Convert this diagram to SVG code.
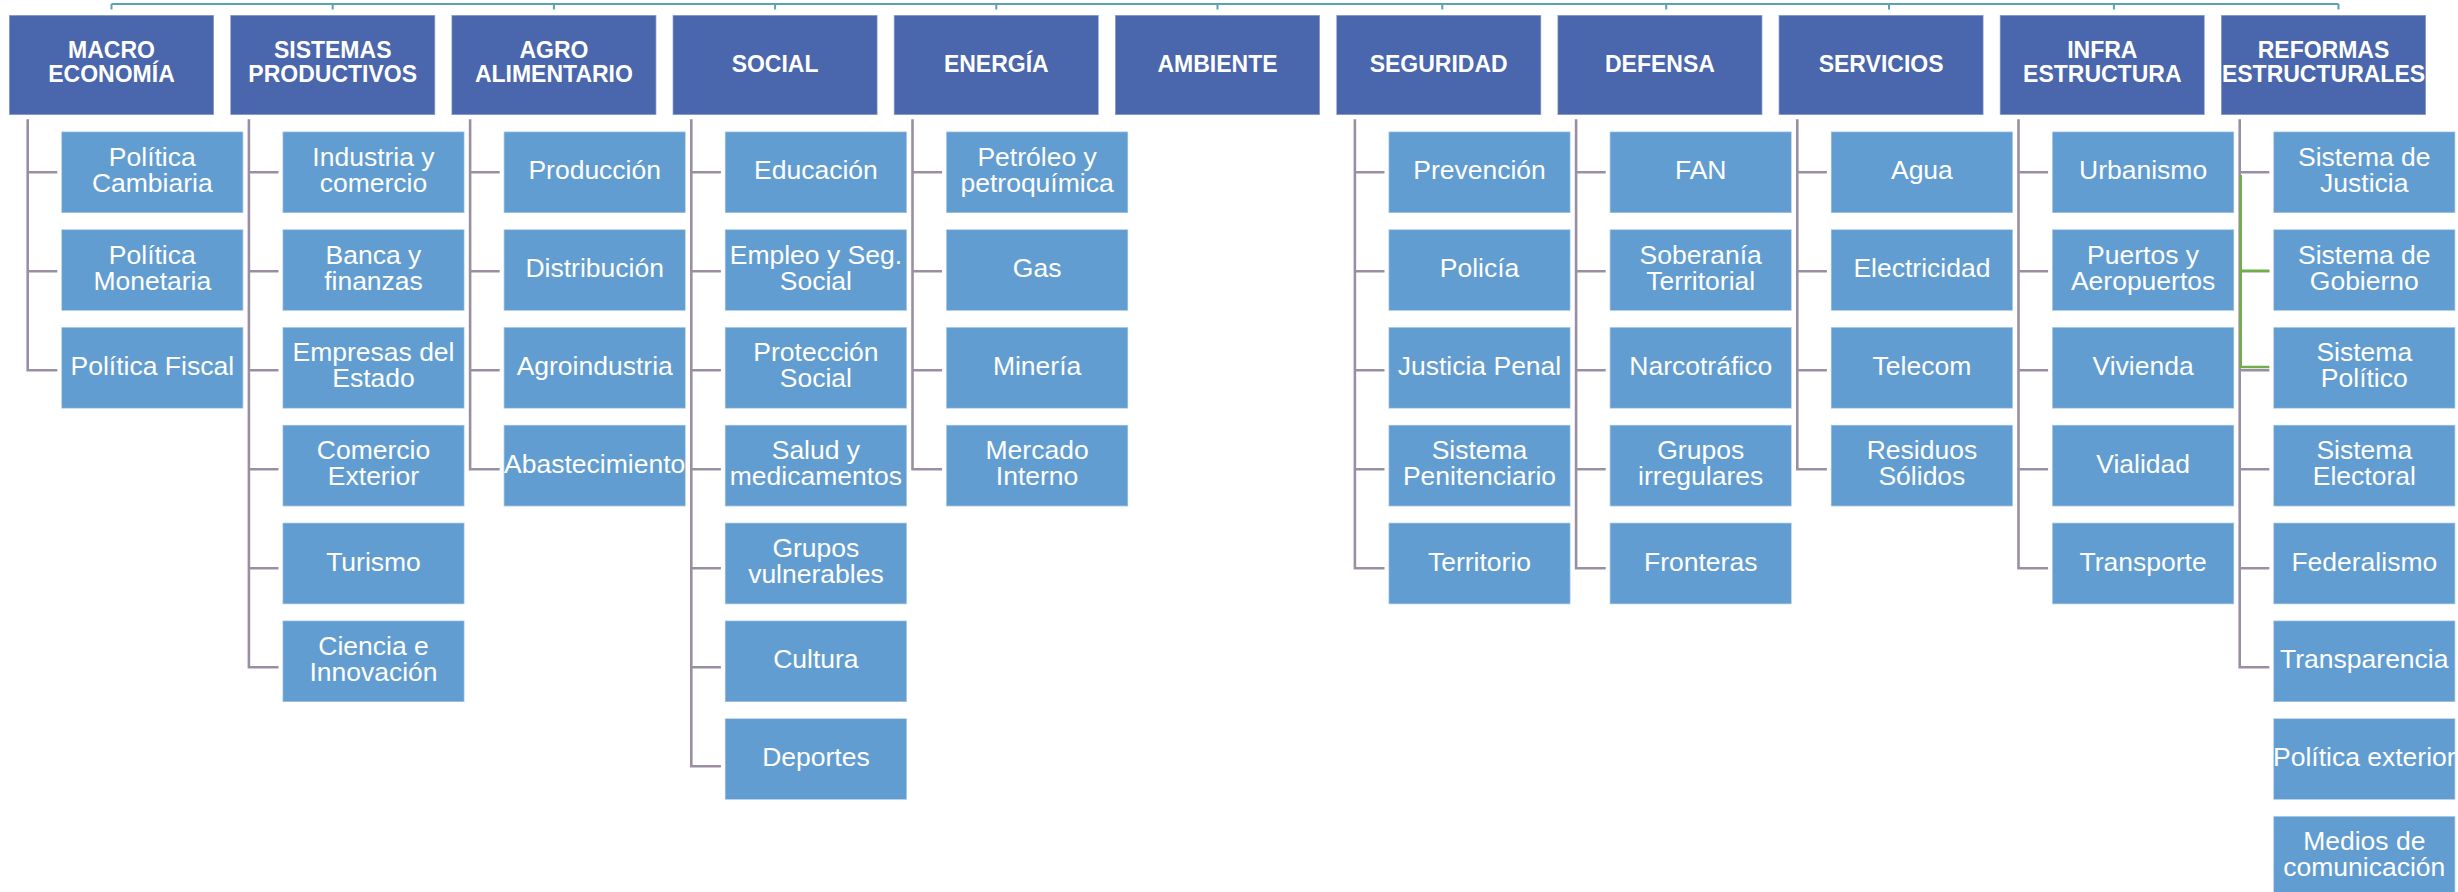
<svg xmlns="http://www.w3.org/2000/svg" width="2458" height="892" viewBox="0 0 2458 892">
<style>
.h{fill:#4A66AC;stroke:#ffffff;stroke-opacity:0.45;stroke-width:1.5}
.c{fill:#629DD1;stroke:#ffffff;stroke-opacity:0.45;stroke-width:1.5}
.ht{font-family:"Liberation Sans",Arial,sans-serif;font-weight:bold;font-size:23px;fill:#ffffff;text-anchor:middle}
.ct{font-family:"Liberation Sans",Arial,sans-serif;font-size:26.5px;fill:#ffffff;text-anchor:middle}
.ln{fill:none;stroke:#9A8FA2;stroke-width:2.6}
.top{fill:none;stroke:#5BA4AC;stroke-width:2}
.grn{fill:none;stroke:#72AE48;stroke-width:2.6}
</style>
<rect width="2458" height="892" fill="#ffffff"/>
<g id="connectors">
<path class="top" d="M111.5 4H2338.5M111.5 4V9.5M332.7 4V9.5M553.9 4V9.5M775.1 4V9.5M996.3 4V9.5M1217.5 4V9.5M1442.3 4V9.5M1666.2 4V9.5M1889 4V9.5M2113.9 4V9.5M2338.5 4V9.5"/>
<path class="ln" d="M27.7 119.3V370.3H57.3M27.7 172.3H57.3M27.7 271.3H57.3"/>
<path class="ln" d="M248.9 119.3V667.3H278.5M248.9 172.3H278.5M248.9 271.3H278.5M248.9 370.3H278.5M248.9 469.3H278.5M248.9 568.3H278.5"/>
<path class="ln" d="M470.1 119.3V469.3H499.7M470.1 172.3H499.7M470.1 271.3H499.7M470.1 370.3H499.7"/>
<path class="ln" d="M691.3 119.3V766.3H720.9M691.3 172.3H720.9M691.3 271.3H720.9M691.3 370.3H720.9M691.3 469.3H720.9M691.3 568.3H720.9M691.3 667.3H720.9"/>
<path class="ln" d="M912.5 119.3V469.3H942.1M912.5 172.3H942.1M912.5 271.3H942.1M912.5 370.3H942.1"/>
<path class="ln" d="M1354.9 119.3V568.3H1384.5M1354.9 172.3H1384.5M1354.9 271.3H1384.5M1354.9 370.3H1384.5M1354.9 469.3H1384.5"/>
<path class="ln" d="M1576.1 119.3V568.3H1605.7M1576.1 172.3H1605.7M1576.1 271.3H1605.7M1576.1 370.3H1605.7M1576.1 469.3H1605.7"/>
<path class="ln" d="M1797.3 119.3V469.3H1826.9M1797.3 172.3H1826.9M1797.3 271.3H1826.9M1797.3 370.3H1826.9"/>
<path class="ln" d="M2018.5 119.3V568.3H2048.1M2018.5 172.3H2048.1M2018.5 271.3H2048.1M2018.5 370.3H2048.1M2018.5 469.3H2048.1"/>
<path class="ln" d="M2239.7 119.3V667.3H2269.3M2239.7 172.3H2269.3M2239.7 271.3H2269.3M2239.7 370.3H2269.3M2239.7 469.3H2269.3M2239.7 568.3H2269.3"/>
<path class="grn" d="M2240.7 175V367H2269.3M2240.7 270.7H2269.3"/>
</g>
<g id="macro">
<rect class="h" x="9" y="15" width="205" height="100"/>
<text class="ht"><tspan x="111.5" y="58.3">MACRO</tspan><tspan x="111.5" y="82.3">ECONOMÍA</tspan></text>
</g>
<g id="macro-1"><rect class="c" x="61.3" y="131.5" width="182" height="81.5"/><text class="ct"><tspan x="152.3" y="165.8">Política</tspan><tspan x="152.3" y="191.8">Cambiaria</tspan></text></g>
<g id="macro-2"><rect class="c" x="61.3" y="229.3" width="182" height="81.5"/><text class="ct"><tspan x="152.3" y="263.6">Política</tspan><tspan x="152.3" y="289.6">Monetaria</tspan></text></g>
<g id="macro-3"><rect class="c" x="61.3" y="327.1" width="182" height="81.5"/><text class="ct" x="152.3" y="374.9">Política Fiscal</text></g>

<g id="sistemas">
<rect class="h" x="230.2" y="15" width="205" height="100"/>
<text class="ht"><tspan x="332.7" y="58.3">SISTEMAS</tspan><tspan x="332.7" y="82.3">PRODUCTIVOS</tspan></text>
</g>
<g id="sist-1"><rect class="c" x="282.5" y="131.5" width="182" height="81.5"/><text class="ct"><tspan x="373.5" y="165.8">Industria y</tspan><tspan x="373.5" y="191.8">comercio</tspan></text></g>
<g id="sist-2"><rect class="c" x="282.5" y="229.3" width="182" height="81.5"/><text class="ct"><tspan x="373.5" y="263.6">Banca y</tspan><tspan x="373.5" y="289.6">finanzas</tspan></text></g>
<g id="sist-3"><rect class="c" x="282.5" y="327.1" width="182" height="81.5"/><text class="ct"><tspan x="373.5" y="361.4">Empresas del</tspan><tspan x="373.5" y="387.4">Estado</tspan></text></g>
<g id="sist-4"><rect class="c" x="282.5" y="424.9" width="182" height="81.5"/><text class="ct"><tspan x="373.5" y="459.2">Comercio</tspan><tspan x="373.5" y="485.2">Exterior</tspan></text></g>
<g id="sist-5"><rect class="c" x="282.5" y="522.7" width="182" height="81.5"/><text class="ct" x="373.5" y="570.5">Turismo</text></g>
<g id="sist-6"><rect class="c" x="282.5" y="620.5" width="182" height="81.5"/><text class="ct"><tspan x="373.5" y="654.8">Ciencia e</tspan><tspan x="373.5" y="680.8">Innovación</tspan></text></g>

<g id="agro">
<rect class="h" x="451.4" y="15" width="205" height="100"/>
<text class="ht"><tspan x="553.9" y="58.3">AGRO</tspan><tspan x="553.9" y="82.3">ALIMENTARIO</tspan></text>
</g>
<g id="agro-1"><rect class="c" x="503.7" y="131.5" width="182" height="81.5"/><text class="ct" x="594.7" y="179.3">Producción</text></g>
<g id="agro-2"><rect class="c" x="503.7" y="229.3" width="182" height="81.5"/><text class="ct" x="594.7" y="277.1">Distribución</text></g>
<g id="agro-3"><rect class="c" x="503.7" y="327.1" width="182" height="81.5"/><text class="ct" x="594.7" y="374.9">Agroindustria</text></g>
<g id="agro-4"><rect class="c" x="503.7" y="424.9" width="182" height="81.5"/><text class="ct" x="594.7" y="472.7">Abastecimiento</text></g>

<g id="social">
<rect class="h" x="672.6" y="15" width="205" height="100"/>
<text class="ht" x="775.1" y="72">SOCIAL</text>
</g>
<g id="social-1"><rect class="c" x="724.9" y="131.5" width="182" height="81.5"/><text class="ct" x="815.9" y="179.3">Educación</text></g>
<g id="social-2"><rect class="c" x="724.9" y="229.3" width="182" height="81.5"/><text class="ct"><tspan x="815.9" y="263.6">Empleo y Seg.</tspan><tspan x="815.9" y="289.6">Social</tspan></text></g>
<g id="social-3"><rect class="c" x="724.9" y="327.1" width="182" height="81.5"/><text class="ct"><tspan x="815.9" y="361.4">Protección</tspan><tspan x="815.9" y="387.4">Social</tspan></text></g>
<g id="social-4"><rect class="c" x="724.9" y="424.9" width="182" height="81.5"/><text class="ct"><tspan x="815.9" y="459.2">Salud y</tspan><tspan x="815.9" y="485.2">medicamentos</tspan></text></g>
<g id="social-5"><rect class="c" x="724.9" y="522.7" width="182" height="81.5"/><text class="ct"><tspan x="815.9" y="557">Grupos</tspan><tspan x="815.9" y="583">vulnerables</tspan></text></g>
<g id="social-6"><rect class="c" x="724.9" y="620.5" width="182" height="81.5"/><text class="ct" x="815.9" y="668.3">Cultura</text></g>
<g id="social-7"><rect class="c" x="724.9" y="718.3" width="182" height="81.5"/><text class="ct" x="815.9" y="766.1">Deportes</text></g>

<g id="energia">
<rect class="h" x="893.8" y="15" width="205" height="100"/>
<text class="ht" x="996.3" y="72">ENERGÍA</text>
</g>
<g id="energia-1"><rect class="c" x="946.1" y="131.5" width="182" height="81.5"/><text class="ct"><tspan x="1037.1" y="165.8">Petróleo y</tspan><tspan x="1037.1" y="191.8">petroquímica</tspan></text></g>
<g id="energia-2"><rect class="c" x="946.1" y="229.3" width="182" height="81.5"/><text class="ct" x="1037.1" y="277.1">Gas</text></g>
<g id="energia-3"><rect class="c" x="946.1" y="327.1" width="182" height="81.5"/><text class="ct" x="1037.1" y="374.9">Minería</text></g>
<g id="energia-4"><rect class="c" x="946.1" y="424.9" width="182" height="81.5"/><text class="ct"><tspan x="1037.1" y="459.2">Mercado</tspan><tspan x="1037.1" y="485.2">Interno</tspan></text></g>

<g id="ambiente">
<rect class="h" x="1115" y="15" width="205" height="100"/>
<text class="ht" x="1217.5" y="72">AMBIENTE</text>
</g>

<g id="seguridad">
<rect class="h" x="1336.2" y="15" width="205" height="100"/>
<text class="ht" x="1438.7" y="72">SEGURIDAD</text>
</g>
<g id="seg-1"><rect class="c" x="1388.5" y="131.5" width="182" height="81.5"/><text class="ct" x="1479.5" y="179.3">Prevención</text></g>
<g id="seg-2"><rect class="c" x="1388.5" y="229.3" width="182" height="81.5"/><text class="ct" x="1479.5" y="277.1">Policía</text></g>
<g id="seg-3"><rect class="c" x="1388.5" y="327.1" width="182" height="81.5"/><text class="ct" x="1479.5" y="374.9">Justicia Penal</text></g>
<g id="seg-4"><rect class="c" x="1388.5" y="424.9" width="182" height="81.5"/><text class="ct"><tspan x="1479.5" y="459.2">Sistema</tspan><tspan x="1479.5" y="485.2">Penitenciario</tspan></text></g>
<g id="seg-5"><rect class="c" x="1388.5" y="522.7" width="182" height="81.5"/><text class="ct" x="1479.5" y="570.5">Territorio</text></g>

<g id="defensa">
<rect class="h" x="1557.4" y="15" width="205" height="100"/>
<text class="ht" x="1659.9" y="72">DEFENSA</text>
</g>
<g id="def-1"><rect class="c" x="1609.7" y="131.5" width="182" height="81.5"/><text class="ct" x="1700.7" y="179.3">FAN</text></g>
<g id="def-2"><rect class="c" x="1609.7" y="229.3" width="182" height="81.5"/><text class="ct"><tspan x="1700.7" y="263.6">Soberanía</tspan><tspan x="1700.7" y="289.6">Territorial</tspan></text></g>
<g id="def-3"><rect class="c" x="1609.7" y="327.1" width="182" height="81.5"/><text class="ct" x="1700.7" y="374.9">Narcotráfico</text></g>
<g id="def-4"><rect class="c" x="1609.7" y="424.9" width="182" height="81.5"/><text class="ct"><tspan x="1700.7" y="459.2">Grupos</tspan><tspan x="1700.7" y="485.2">irregulares</tspan></text></g>
<g id="def-5"><rect class="c" x="1609.7" y="522.7" width="182" height="81.5"/><text class="ct" x="1700.7" y="570.5">Fronteras</text></g>

<g id="servicios">
<rect class="h" x="1778.6" y="15" width="205" height="100"/>
<text class="ht" x="1881.1" y="72">SERVICIOS</text>
</g>
<g id="serv-1"><rect class="c" x="1830.9" y="131.5" width="182" height="81.5"/><text class="ct" x="1921.9" y="179.3">Agua</text></g>
<g id="serv-2"><rect class="c" x="1830.9" y="229.3" width="182" height="81.5"/><text class="ct" x="1921.9" y="277.1">Electricidad</text></g>
<g id="serv-3"><rect class="c" x="1830.9" y="327.1" width="182" height="81.5"/><text class="ct" x="1921.9" y="374.9">Telecom</text></g>
<g id="serv-4"><rect class="c" x="1830.9" y="424.9" width="182" height="81.5"/><text class="ct"><tspan x="1921.9" y="459.2">Residuos</tspan><tspan x="1921.9" y="485.2">Sólidos</tspan></text></g>

<g id="infra">
<rect class="h" x="1999.8" y="15" width="205" height="100"/>
<text class="ht"><tspan x="2102.3" y="58.3">INFRA</tspan><tspan x="2102.3" y="82.3">ESTRUCTURA</tspan></text>
</g>
<g id="infra-1"><rect class="c" x="2052.1" y="131.5" width="182" height="81.5"/><text class="ct" x="2143.1" y="179.3">Urbanismo</text></g>
<g id="infra-2"><rect class="c" x="2052.1" y="229.3" width="182" height="81.5"/><text class="ct"><tspan x="2143.1" y="263.6">Puertos y</tspan><tspan x="2143.1" y="289.6">Aeropuertos</tspan></text></g>
<g id="infra-3"><rect class="c" x="2052.1" y="327.1" width="182" height="81.5"/><text class="ct" x="2143.1" y="374.9">Vivienda</text></g>
<g id="infra-4"><rect class="c" x="2052.1" y="424.9" width="182" height="81.5"/><text class="ct" x="2143.1" y="472.7">Vialidad</text></g>
<g id="infra-5"><rect class="c" x="2052.1" y="522.7" width="182" height="81.5"/><text class="ct" x="2143.1" y="570.5">Transporte</text></g>

<g id="reformas">
<rect class="h" x="2221" y="15" width="205" height="100"/>
<text class="ht"><tspan x="2323.5" y="58.3">REFORMAS</tspan><tspan x="2323.5" y="82.3">ESTRUCTURALES</tspan></text>
</g>
<g id="ref-1"><rect class="c" x="2273.3" y="131.5" width="182" height="81.5"/><text class="ct"><tspan x="2364.3" y="165.8">Sistema de</tspan><tspan x="2364.3" y="191.8">Justicia</tspan></text></g>
<g id="ref-2"><rect class="c" x="2273.3" y="229.3" width="182" height="81.5"/><text class="ct"><tspan x="2364.3" y="263.6">Sistema de</tspan><tspan x="2364.3" y="289.6">Gobierno</tspan></text></g>
<g id="ref-3"><rect class="c" x="2273.3" y="327.1" width="182" height="81.5"/><text class="ct"><tspan x="2364.3" y="361.4">Sistema</tspan><tspan x="2364.3" y="387.4">Político</tspan></text></g>
<g id="ref-4"><rect class="c" x="2273.3" y="424.9" width="182" height="81.5"/><text class="ct"><tspan x="2364.3" y="459.2">Sistema</tspan><tspan x="2364.3" y="485.2">Electoral</tspan></text></g>
<g id="ref-5"><rect class="c" x="2273.3" y="522.7" width="182" height="81.5"/><text class="ct" x="2364.3" y="570.5">Federalismo</text></g>
<g id="ref-6"><rect class="c" x="2273.3" y="620.5" width="182" height="81.5"/><text class="ct" x="2364.3" y="668.3">Transparencia</text></g>
<g id="ref-7"><rect class="c" x="2273.3" y="718.3" width="182" height="81.5"/><text class="ct" x="2364.3" y="766.1">Política exterior</text></g>
<g id="ref-8"><rect class="c" x="2273.3" y="816.1" width="182" height="81.5"/><text class="ct"><tspan x="2364.3" y="850.4">Medios de</tspan><tspan x="2364.3" y="876.4">comunicación</tspan></text></g>
</svg>
